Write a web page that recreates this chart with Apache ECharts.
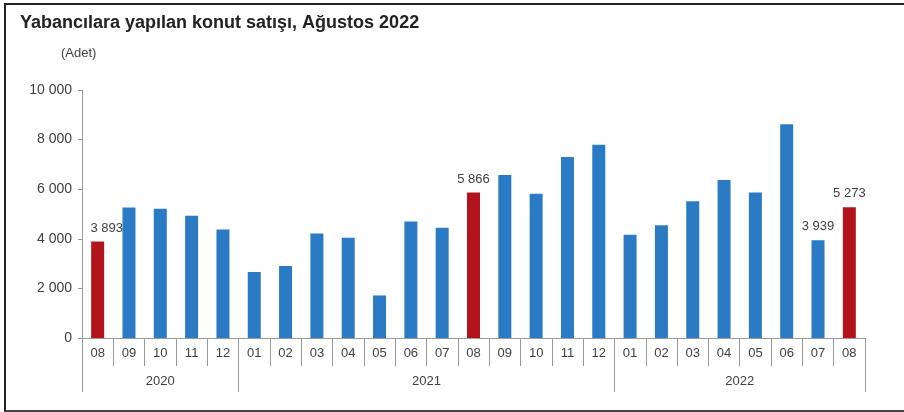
<!DOCTYPE html>
<html>
<head>
<meta charset="utf-8">
<script src="https://cdn.jsdelivr.net/npm/echarts@6/dist/echarts.min.js"></script>
<style>
  html, body { margin: 0; padding: 0; background: #fff; overflow: hidden; }
  #frame { position: absolute; left: 4px; top: 3px; width: 920px; height: 405px;
           border-left: 2px solid #222; border-top: 2px solid #222; border-bottom: 2px solid #444; }
  #chart { position: absolute; left: 0; top: 0; width: 904px; height: 412px; }
</style>
</head>
<body>
<div id="frame"></div>
<div id="chart"></div>
<script>
// Monthly house sales to foreigners, Aug 2020 – Aug 2022
const months = ['08','09','10','11','12','01','02','03','04','05','06','07','08','09','10','11','12','01','02','03','04','05','06','07','08'];
const sales = [3893, 5260, 5207, 4925, 4374, 2658, 2900, 4213, 4040, 1716, 4696, 4442, 5866, 6577, 5812, 7302, 7797, 4160, 4551, 5517, 6375, 5865, 8618, 3939, 5273];
// indices of highlighted (August) bars and of bars carrying a value label
const highlighted = [0, 12, 24];
const labelled = [0, 12, 23, 24];
// year groups: label, first index, last index
const years = ['2020', '2021', '2022'];
const yearStart = [0, 5, 17];
const yearEnd = [4, 16, 24];
const yTicks = [0, 2000, 4000, 6000, 8000, 10000];

const BLUE = '#2a7bc3';
const RED = '#b3141c';
const TEXT = '#404040';
const AXIS = '#9a9a9a';
const FONT = '"Liberation Sans", Arial, sans-serif';

const fmt = v => String(v).replace(/\B(?=(\d{3})+(?!\d))/g, ' ');

const barData = sales.map((v, i) => {
  const item = { value: v, itemStyle: { color: highlighted.includes(i) ? RED : BLUE } };
  if (labelled.includes(i)) {
    item.label = { show: true, position: 'top', distance: 7, offset: i === 0 ? [9, 0] : [0, 0] };
  }
  return item;
});

const yearCenters = years.map((y, k) => (yearStart[k] + yearEnd[k]) / 2);
const yearBounds = [yearStart[0] - 0.5].concat(yearEnd.map(e => e + 0.5));

const chart = echarts.init(document.getElementById('chart'), null, { renderer: 'canvas' });
chart.setOption({
  animation: false,
  textStyle: { fontFamily: FONT },
  title: [
    { text: 'Yabancılara yapılan konut satışı, Ağustos 2022', left: 15, top: 9,
      textStyle: { fontFamily: FONT, fontSize: 18, fontWeight: 'bold', color: '#222' } },
    { text: '(Adet)', left: 56, top: 42,
      textStyle: { fontFamily: FONT, fontSize: 13, fontWeight: 'normal', color: TEXT } }
  ],
  grid: { left: 82, right: 39, top: 90, bottom: 74, containLabel: false },
  xAxis: [
    {
      type: 'category', data: months, position: 'bottom',
      axisLine: { show: true, onZero: false, lineStyle: { color: AXIS, width: 1 } },
      axisTick: { show: true, interval: 0, alignWithLabel: false, length: 28, lineStyle: { color: AXIS } },
      axisLabel: { interval: 0, margin: 9, color: TEXT, fontSize: 13, fontFamily: FONT }
    },
    {
      type: 'value', position: 'bottom', min: -0.5, max: months.length - 0.5,
      axisLine: { show: false, onZero: false },
      splitLine: { show: false },
      axisTick: { show: true, customValues: yearBounds, length: 54, lineStyle: { color: AXIS } },
      axisLabel: {
        show: true, customValues: yearCenters, margin: 37, color: TEXT, fontSize: 13, fontFamily: FONT,
        formatter: v => years[yearCenters.indexOf(v)] || ''
      }
    }
  ],
  yAxis: {
    type: 'value', min: 0, max: 10000, interval: 2000,
    axisLine: { show: true, onZero: false, lineStyle: { color: AXIS } },
    axisTick: { show: true, length: 4, inside: false, lineStyle: { color: AXIS } },
    splitLine: { show: false },
    axisLabel: { margin: 10, color: TEXT, fontSize: 14, fontFamily: FONT,
                 formatter: v => yTicks.includes(v) ? fmt(v) : '' }
  },
  series: [{
    type: 'bar', xAxisIndex: 0, data: barData, barWidth: 13,
    label: { show: false, color: TEXT, fontSize: 13, fontFamily: FONT, formatter: p => fmt(p.value) }
  }]
});
</script>
</body>
</html>
